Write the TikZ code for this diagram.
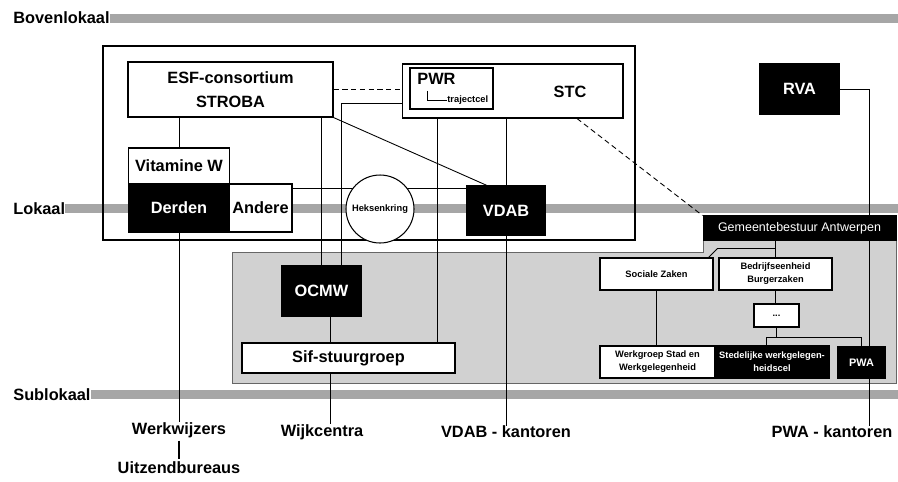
\documentclass[tikz,border=0pt]{standalone}
\usepackage{fontspec}
\setmainfont{Liberation Sans}
\newcommand{\orgfont}{\fontsize{9.3}{13.5}\selectfont\bfseries}
\newcommand{\smallorgfont}{\fontsize{5.3}{7.4}\selectfont\bfseries}
\newcommand{\gemfont}{\fontsize{7.1}{8}\selectfont}
\pgfdeclarelayer{bg}
\pgfdeclarelayer{lines}
\pgfsetlayers{bg,lines,main}
\begin{document}
\begin{tikzpicture}[x=0.02cm,y=-0.02cm,
    box/.style={draw,fill=white,line width=0.6pt,inner sep=0pt,align=center,font=\orgfont},
    darkbox/.style={box,fill=black,text=white},
    smallbox/.style={box,font=\smallorgfont},
    lbl/.style={inner sep=0pt,font=\orgfont},
    band/.style={fill=black!35},
    conn/.style={line width=0.5pt},
    dashconn/.style={conn,dash pattern=on 3pt off 2pt}]
\useasboundingbox (0,0) rectangle (898,481);
% levels
\node[lbl,anchor=west] (boven) at (13,18) {Bovenlokaal};
\node[lbl,anchor=west] (lokaal) at (13,209) {Lokaal};
\node[lbl,anchor=west] (sublok) at (13,395) {Sublokaal};
% upper part
\node[box,minimum width=4.1cm,minimum height=1.1cm] (esf) at (230.5,89.5) {ESF-consortium\\STROBA};
\node[box,minimum width=4.42cm,minimum height=1.08cm] (stc) at (512.5,91) {};
\node[lbl] (stctxt) at (570,92) {STC};
\node[box,minimum width=1.66cm,minimum height=0.82cm] (pwr) at (451.5,88.5) {};
\node[lbl,anchor=west] (pwrtxt) at (417,79) {PWR};
\node[lbl,anchor=west,font=\smallorgfont] (traj) at (447,100) {trajectcel};
\node[box,minimum width=2.02cm,minimum height=0.72cm] (vitw) at (179,166) {Vitamine W};
\node[darkbox,minimum width=2.02cm,minimum height=0.96cm] (derden) at (179,208) {Derden};
\node[box,minimum width=1.26cm,minimum height=0.96cm] (andere) at (260.5,208) {Andere};
\node[draw,circle,fill=white,line width=0.6pt,minimum size=1.36cm,inner sep=0pt,font=\smallorgfont] (heks) at (380,209) {Heksenkring};
\node[darkbox,minimum width=1.56cm,minimum height=0.98cm] (vdab) at (506,210.5) {VDAB};
\node[darkbox,minimum width=1.58cm,minimum height=1cm] (rva) at (799.5,89) {RVA};
\node[darkbox,minimum width=3.86cm,minimum height=0.48cm,font=\gemfont] (gem) at (799.5,228) {Gemeentebestuur Antwerpen};
% lower part
\node[darkbox,minimum width=1.58cm,minimum height=1cm] (ocmw) at (321.5,291) {OCMW};
\node[box,minimum width=4.26cm,minimum height=0.6cm] (sif) at (348.5,358) {Sif-stuurgroep};
\node[smallbox,minimum width=2.26cm,minimum height=0.64cm] (soc) at (656.5,274) {Sociale Zaken};
\node[smallbox,minimum width=2.26cm,minimum height=0.64cm] (bedr) at (775.5,274) {Bedrijfseenheid\\Burgerzaken};
\node[smallbox,minimum width=0.9cm,minimum height=0.46cm] (dots) at (776.5,315.5) {...};
\node[smallbox,minimum width=2.3cm,minimum height=0.64cm] (werkgr) at (657.5,362) {Werkgroep Stad en\\Werkgelegenheid};
\node[smallbox,fill=black,text=white,minimum width=2.28cm,minimum height=0.64cm] (sted) at (772,362) {Stedelijke werkgelegen-\\heidscel};
\node[darkbox,font=\fontsize{6.2}{7}\selectfont\bfseries,minimum width=0.94cm,minimum height=0.62cm] (pwa) at (861.5,362.5) {PWA};
% bottom labels
\node[lbl] (werkw) at (179,430) {Werkwijzers};
\node[lbl] (uitz) at (179,468) {Uitzendbureaus};
\node[lbl] (wijk) at (322,432) {Wijkcentra};
\node[lbl] (vdabk) at (506,432) {VDAB - kantoren};
\node[lbl] (pwak) at (832,432) {PWA - kantoren};
% PWR -> trajectcel hook
\draw[conn] ([xshift=0.2cm,yshift=-0.12cm]pwrtxt.south west) |- (traj.west);
% Werkwijzers -> Uitzendbureaus
\draw[line width=0.6pt] ([yshift=-1.5pt]werkw.south) -- ([yshift=1.5pt]uitz.north);

\begin{pgfonlayer}{bg}
\filldraw[fill=black!18,draw=black!60,line width=0.4pt] (232,252) -- (703,252) -- (703,240) -- (896,240) -- (896,383) -- (232,383) -- cycle;
\fill[band] (boven.east |- 0,14) rectangle (898,23);
\fill[band] (lokaal.east |- 0,204) rectangle (898,213);
\fill[band] (sublok.east |- 0,390) rectangle (898,399);
\draw[line width=0.7pt] (103,46) rectangle (635,240);
\end{pgfonlayer}

\begin{pgfonlayer}{lines}
\draw[conn] (esf.south -| vitw.north) -- (vitw.north);
\draw[conn] (derden.south) -- (werkw.north);
\draw[conn] (esf.south -| ocmw.north) -- (ocmw.north);
\draw[conn] ([yshift=-0.24cm]stc.west) -| ([xshift=0.39cm]ocmw.north);
\draw[conn] ([xshift=-0.29cm]pwr.south) -- ([xshift=-0.29cm]pwr.south |- sif.north);
\draw[conn] (stc.south -| vdab.north) -- (vdab.north);
\draw[conn] (esf.south east) -- ([xshift=-0.38cm]vdab.north);
\draw[conn] (vdab.south) -- (vdabk.north);
\draw[dashconn] (esf.east) -- (esf.east -| stc.west);
\draw[conn] ([yshift=-0.1cm]andere.north east) -- ([yshift=-0.1cm]andere.north east -| vdab.west);
\draw[conn] ([xshift=0.17cm]ocmw.south) -- ([xshift=0.17cm]ocmw.south |- sif.north);
\draw[conn] ([xshift=0.17cm]ocmw.south |- sif.south) -- ([xshift=0.17cm]ocmw.south |- wijk.north);
\draw[conn] (rva.east) -| ([xshift=0.15cm]pwa.north);
\draw[conn] ([xshift=0.15cm]pwa.south) -- ([xshift=0.15cm]pwa.south |- pwak.north);
\draw[dashconn] ([xshift=1.29cm]stc.south) -- (gem.north west);
\draw[conn] (gem.south -| bedr.north) -- (bedr.north);
\path (gem.south -| bedr.north) ++(0,8) coordinate (gsplit);
\draw[conn] (gsplit) -- ++(-58,0) -- ([xshift=-0.1cm]soc.north east);
\draw[conn] (soc.south) -- (soc.south |- werkgr.north);
\draw[conn] (bedr.south) -- (bedr.south |- dots.north);
\path (dots.south) ++(0,10) coordinate (dsplit);
\draw[conn] (dots.south) -- (dsplit);
\draw[conn] ([xshift=-0.12cm]sted.north) |- (dsplit) -| (pwa.north);
\end{pgfonlayer}
\end{tikzpicture}
\end{document}
